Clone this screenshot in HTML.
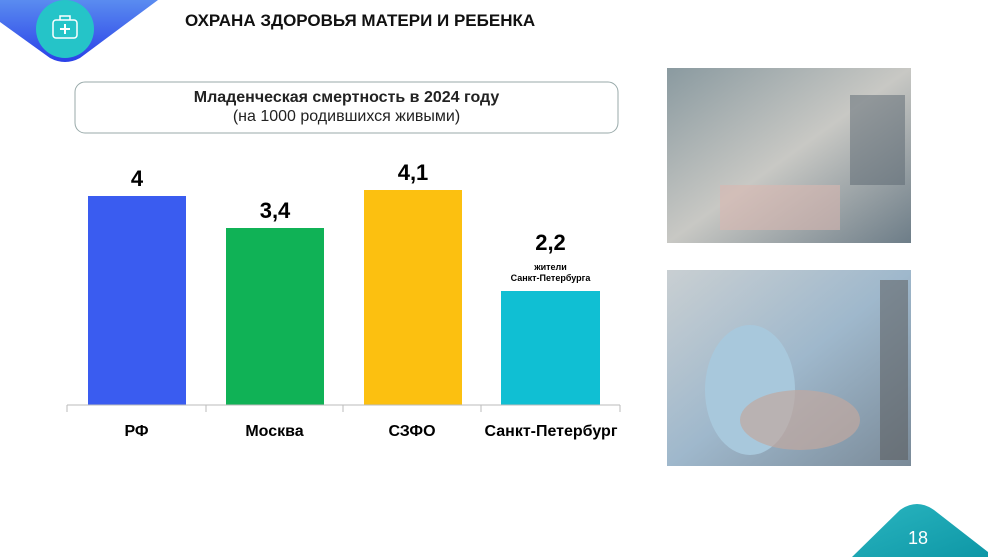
<!DOCTYPE html>
<html><head><meta charset="utf-8"><style>
body{margin:0;width:990px;height:557px;background:#fff;overflow:hidden;position:relative;font-family:"Liberation Sans",sans-serif}
.a{position:absolute}
.t{font-weight:bold;text-align:center}
</style></head><body>
<svg class="a" style="left:0;top:0" width="990" height="557">
<defs>
<linearGradient id="bl" x1="0" y1="0" x2="0" y2="1"><stop offset="0" stop-color="#5a8cf0"/><stop offset="1" stop-color="#2a40e8"/></linearGradient>
<linearGradient id="tl" x1="0" y1="0" x2="1" y2="1"><stop offset="0" stop-color="#2ab5c0"/><stop offset="1" stop-color="#0e97a6"/></linearGradient>
<linearGradient id="p1" x1="0" y1="0" x2="1" y2="1"><stop offset="0" stop-color="#8a9aa0"/><stop offset=".5" stop-color="#c8c8c4"/><stop offset="1" stop-color="#6d7d88"/></linearGradient>
<linearGradient id="p2" x1="0" y1="0" x2="1" y2="1"><stop offset="0" stop-color="#c9cfd2"/><stop offset=".5" stop-color="#9fb8cc"/><stop offset="1" stop-color="#7a8a98"/></linearGradient>
</defs>
<path d="M0,0 H158 L80,58 Q65,66 50,58 L0,22 Z" fill="url(#bl)"/>
<circle cx="65" cy="29" r="29" fill="#25c4c8"/>
<rect x="53" y="20" width="24" height="18" rx="3" fill="none" stroke="#fff" stroke-width="1.5"/>
<path d="M60,20 v-4 h10 v4" fill="none" stroke="#fff" stroke-width="1.5"/>
<path d="M65,24 v10 M60,29 h10" stroke="#fff" stroke-width="2"/>
<path d="M852,557 L900,510 Q917,498 934,510 L988,552 L988,557 Z" fill="url(#tl)"/>
<text x="918" y="544" fill="#fff" font-size="18" text-anchor="middle" font-family="Liberation Sans">18</text>
<rect x="75" y="82" width="543" height="51" rx="10" fill="#fff" stroke="#9aa" stroke-width="1"/>
<rect x="88" y="196" width="98" height="209" fill="#3a5cf0"/>
<rect x="226" y="228" width="98" height="177" fill="#10b256"/>
<rect x="364" y="190" width="98" height="215" fill="#fcc010"/>
<rect x="501" y="291" width="99" height="114" fill="#10bfd3"/>
<path d="M67,405 H620 M67,405v7 M206,405v7 M343,405v7 M481,405v7 M620,405v7" stroke="#bbb" stroke-width="1"/>
<rect x="667" y="68" width="244" height="175" fill="url(#p1)"/>
<rect x="720" y="185" width="120" height="45" fill="#d9b8b0" opacity=".6"/>
<rect x="850" y="95" width="55" height="90" fill="#5a6670" opacity=".5"/>
<rect x="667" y="270" width="244" height="196" fill="url(#p2)"/>
<ellipse cx="750" cy="390" rx="45" ry="65" fill="#a8c8dc"/>
<ellipse cx="800" cy="420" rx="60" ry="30" fill="#c0a8a0" opacity=".7"/>
<rect x="880" y="280" width="28" height="180" fill="#555" opacity=".5"/>
</svg>
<div class="a t" style="left:185px;top:11px;font-size:17px;color:#111">ОХРАНА ЗДОРОВЬЯ МАТЕРИ И РЕБЕНКА</div>
<div class="a" style="left:75px;top:88px;width:543px;text-align:center;font-size:16px;line-height:19px;color:#222"><b>Младенческая смертность в 2024 году</b><br>(на 1000 родившихся живыми)</div>
<div class="a t" style="left:88px;top:166px;width:98px;font-size:22px">4</div>
<div class="a t" style="left:226px;top:198px;width:98px;font-size:22px">3,4</div>
<div class="a t" style="left:364px;top:160px;width:98px;font-size:22px">4,1</div>
<div class="a t" style="left:501px;top:230px;width:99px;font-size:22px">2,2</div>
<div class="a t" style="left:491px;top:262px;width:119px;font-size:9px;line-height:11px">жители<br>Санкт-Петербурга</div>
<div class="a t" style="left:67px;top:423px;width:139px;font-size:16px">РФ</div>
<div class="a t" style="left:206px;top:423px;width:137px;font-size:16px">Москва</div>
<div class="a t" style="left:343px;top:423px;width:138px;font-size:16px">СЗФО</div>
<div class="a t" style="left:476px;top:423px;width:150px;font-size:16px">Санкт-Петербург</div>
</body></html>
